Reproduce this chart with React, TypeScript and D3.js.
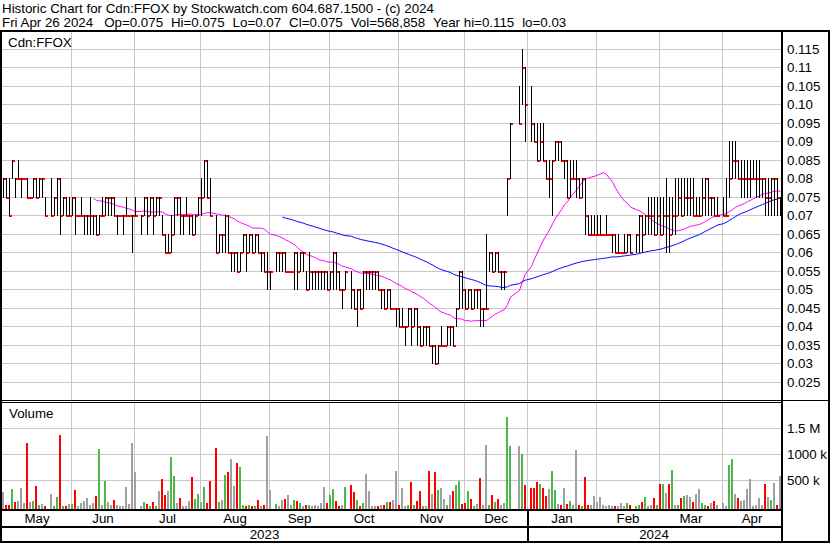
import React from 'react';
import * as d3 from 'd3';

const W = 830;
const H = 543;
const FONT = '"Liberation Sans", Arial, sans-serif';

// ---- data (one entry per weekday from 2023-05-01; null = market holiday) ----
const startDate = new Date(2023, 4, 1);

const highs: (number | null)[] = [
  // May
  .08,.08,.08,.085,.08,.085,.08,.08,.08,.075,.08,.08,.08,.08,.075,null,.08,.075,.08,.08,.075,.075,.075,
  // Jun
  .075,.075,.07,.075,.07,.07,.075,.07,.07,.07,.075,.075,.075,.075,.075,.07,.07,.07,.075,.07,.07,.075,
  // Jul
  null,.07,.075,.075,.075,.075,.075,.075,.07,.065,.065,.07,.075,.075,.075,.07,.075,.07,.07,.07,.075,
  // Aug
  .08,.085,.085,.08,null,.07,.065,.065,.07,.07,.06,.06,.06,.06,.065,.065,.065,.065,.065,.065,.06,.06,.06,
  // Sep
  .055,null,.06,.06,.06,.06,.055,.055,.06,.06,.06,.06,.055,.06,.055,.055,.055,.055,.055,.055,.055,
  // Oct
  .06,.06,.055,.05,.055,null,.055,.05,.05,.05,.055,.055,.055,.055,.055,.055,.05,.05,.05,.05,.045,.045,
  // Nov
  .045,.045,.04,.045,.045,.045,.045,.04,.04,.04,.04,.035,.035,.035,.04,.035,.04,.04,.04,.045,.055,.055,
  // Dec
  .05,.05,.05,.05,.05,.05,.045,.065,.06,.06,.06,.06,.055,.055,.08,.095,null,null,.105,.115,.11,
  // Jan
  null,.105,.095,.095,.095,.095,.085,.085,.085,.09,.09,.09,.085,.085,.085,.085,.085,.08,.08,.08,.07,.07,.07,
  // Feb
  .07,.07,.065,.07,.065,.065,.065,.065,.06,.065,.065,.065,null,.065,.07,.07,.07,.075,.075,.075,.075,
  // Mar
  .075,.075,.08,.075,.075,.08,.08,.08,.08,.08,.08,.08,.075,.075,.08,.08,.08,.075,.075,.075,null,
  // Apr
  .075,.08,.09,.09,.09,.085,.085,.085,.085,.085,.085,.085,.085,.08,.08,.08,.08,.08,.08,.075,
];

const lows: (number | null)[] = [
  .075,.075,.07,.08,.075,.08,.075,.08,.075,.075,.075,.075,.075,.075,.07,null,.07,.07,.07,.065,.07,.07,.07,
  .07,.065,.07,.07,.065,.065,.065,.065,.065,.065,.07,.07,.07,.07,.07,.065,.07,.065,.07,.07,.06,.07,
  null,.065,.07,.065,.07,.065,.07,.07,.065,.06,.06,.06,.065,.07,.065,.065,.07,.065,.065,.065,.07,
  .07,.075,.075,.07,null,.06,.06,.06,.06,.06,.055,.055,.055,.055,.06,.055,.06,.06,.06,.06,.055,.055,.05,
  .05,null,.055,.055,.055,.055,.055,.055,.05,.05,.055,.055,.05,.05,.05,.05,.05,.05,.05,.05,.05,
  .05,.05,.05,.045,.05,null,.045,.045,.04,.045,.045,.05,.05,.05,.05,.05,.045,.045,.045,.045,.045,.04,
  .04,.04,.035,.04,.035,.04,.035,.035,.035,.035,.035,.03,.03,.03,.035,.035,.035,.035,.035,.04,.045,.045,
  .045,.045,.045,.045,.045,.04,.04,.045,.055,.055,.055,.055,.05,.05,.07,.08,null,null,.095,.10,.09,
  null,.09,.09,.085,.085,.085,.08,.075,.07,.085,.085,.085,.08,.075,.075,.08,.075,.075,.075,.065,.065,.065,.065,
  .065,.065,.065,.065,.065,.06,.06,.06,.06,.06,.06,.06,null,.06,.06,.06,.065,.065,.065,.065,.065,
  .065,.065,.06,.06,.065,.065,.07,.07,.07,.07,.07,.07,.07,.07,.07,.07,.07,.07,.07,.07,null,
  .07,.07,.075,.08,.08,.08,.075,.075,.075,.075,.08,.075,.075,.075,.07,.07,.07,.07,.07,.07,
];

const closes: (number | null)[] = [
  .08,.075,.07,.085,.08,.08,.08,.08,.075,.075,.08,.075,.08,.08,.07,null,.07,.075,.08,.07,.075,.07,.07,
  .075,.07,.07,.07,.07,.07,.07,.07,.065,.07,.07,.075,.075,.075,.07,.07,.07,.07,.07,.07,.07,.07,
  null,.07,.075,.07,.075,.07,.075,.075,.065,.06,.06,.065,.075,.075,.07,.07,.07,.07,.065,.07,.075,
  .075,.085,.075,.07,null,.06,.065,.065,.07,.06,.06,.06,.055,.06,.065,.06,.065,.06,.065,.06,.06,.055,.055,
  .055,null,.06,.06,.06,.055,.055,.055,.06,.055,.06,.06,.05,.055,.055,.055,.055,.055,.055,.05,.055,
  .06,.055,.05,.05,.055,null,.05,.045,.05,.045,.055,.055,.055,.055,.055,.05,.05,.045,.05,.045,.045,.045,
  .04,.04,.04,.045,.04,.045,.04,.035,.04,.04,.035,.035,.03,.035,.035,.035,.04,.04,.035,.045,.055,.05,
  .045,.05,.045,.05,.05,.045,.045,.045,.06,.055,.06,.055,.055,.055,.08,.095,null,null,.095,.11,.10,
  null,.095,.09,.085,.09,.085,.08,.08,.085,.09,.09,.085,.085,.075,.08,.08,.08,.075,.08,.07,.065,.065,.065,
  .065,.065,.065,.065,.065,.065,.06,.06,.06,.06,.065,.06,null,.065,.07,.065,.07,.07,.07,.065,.07,
  .065,.07,.07,.065,.07,.07,.075,.07,.075,.075,.075,.07,.07,.07,.075,.08,.075,.075,.07,.07,null,
  .07,.07,.08,.085,.085,.08,.08,.08,.08,.08,.08,.08,.08,.08,.075,.075,.08,.08,.075,.075,
];

// volume in thousands of shares
const volumes: (number | null)[] = [
  262,10,20,325,75,95,340,50,1210,68,87,384,16,35,5,null,229,5,164,1370,5,3,35,
  35,306,5,55,95,150,10,55,190,1100,20,480,75,20,112,20,5,5,364,35,1210,655,
  null,5,75,35,5,75,5,287,520,209,287,946,578,55,150,3,5,95,558,132,229,
  75,364,55,480,null,1120,75,112,597,655,907,384,830,752,10,5,10,3,3,112,3,10,1350,
  306,null,35,5,112,132,209,10,112,95,55,3,10,10,3,10,3,55,364,55,209,
  325,95,5,10,364,null,403,267,112,5,55,616,287,3,5,3,20,20,75,75,112,674,
  20,345,5,10,467,10,95,287,5,5,674,229,655,306,345,132,10,209,287,403,480,35,
  55,287,132,5,35,539,10,1180,10,209,75,132,20,55,1710,1150,null,null,1150,1000,403,
  null,345,345,461,422,345,190,325,674,306,35,20,345,35,95,10,1080,20,5,558,20,20,190,
  75,170,10,3,10,5,3,3,55,5,55,10,null,3,20,75,170,5,10,150,10,
  422,422,248,422,694,10,20,150,190,209,170,75,229,325,55,10,5,55,95,20,null,
  55,5,790,907,229,150,95,112,325,520,5,20,150,20,422,170,112,442,20,569,
];

const priceTicks = [0.025,0.03,0.035,0.04,0.045,0.05,0.055,0.06,0.065,0.07,0.075,0.08,0.085,0.09,0.095,0.10,0.105,0.11,0.115];
const volumeTicks = [500, 1000, 1500];
const volumeTickLabels = ['500 k', '1000 k', '1.5 M'];
const monthNames = ['Jan','Feb','Mar','Apr','May','Jun','Jul','Aug','Sep','Oct','Nov','Dec'];
const maPeriods = [30, 90];
const maColors = ['#ff00ff', '#0000ff'];
const headerLine1 = 'Historic Chart for Cdn:FFOX by Stockwatch.com 604.687.1500 - (c) 2024';
const headerFields = ['Fri Apr 26 2024', 'Op=0.075', 'Hi=0.075', 'Lo=0.07', 'Cl=0.075', 'Vol=568,858', 'Year hi=0.115', 'lo=0.03'];

function makeWeekdays(start: Date, n: number): Date[] {
  const out: Date[] = [];
  const d = new Date(start);
  while (out.length < n) {
    const wd = d.getDay();
    if (wd !== 0 && wd !== 6) out.push(new Date(d));
    d.setDate(d.getDate() + 1);
  }
  return out;
}

function sma(vals: (number | null)[], period: number): (number | null)[] {
  const out: (number | null)[] = vals.map(() => null);
  const win: number[] = [];
  let sum = 0;
  vals.forEach((v, i) => {
    if (v == null) return;
    win.push(v); sum += v;
    if (win.length > period) sum -= win.shift() as number;
    if (win.length === period) out[i] = sum / period;
  });
  return out;
}

function fmtPrice(p: number): string {
  let s = p.toFixed(3);
  if (s.endsWith('0')) s = s.slice(0, -1);
  return s;
}

export default function App() {
  const n = closes.length;
  const dates = makeWeekdays(startDate, n);
  const x = d3.scaleLinear().domain([0, n - 1]).range([3, 3 + 3 * (n - 1)]);
  const y = d3.scaleLinear().domain([0.025, 0.115]).range([381.8, 48.8]);
  const vy = d3.scaleLinear().domain([0, 1500]).range([505.8, 428.3]);
  const plotL = 2, plotR = 781;

  // month boundaries: last weekday on or before the 1st of each month
  const bounds: { idx: number; month: number }[] = [];
  for (let i = 1; i < n; i++) {
    if (dates[i].getMonth() !== dates[i - 1].getMonth()) {
      const idx = dates[i].getDate() === 1 ? i : i - 1;
      bounds.push({ idx, month: dates[i].getMonth() });
    }
  }
  const gridXs = bounds.map(b => Math.round(x(b.idx)) - 1);
  const edges = [plotL, ...gridXs, plotR];
  const months = [dates[0].getMonth(), ...bounds.map(b => b.month)];
  const yearBound = bounds.find(b => b.month === 0)!;
  const yearX = Math.round(x(yearBound.idx)) - 1;

  const mas = maPeriods.map(p => sma(closes, p));
  const line = d3.line<[number, number]>().x(d => d[0]).y(d => d[1]);

  const ticks: JSX.Element[] = [];
  const bars: JSX.Element[] = [];
  const vbars: JSX.Element[] = [];
  let prev: number | null = null;
  for (let i = 0; i < n; i++) {
    const h = highs[i], l = lows[i], c = closes[i], v = volumes[i];
    if (h == null || l == null || c == null) continue;
    const bx = Math.round(x(i));
    const yt = Math.round(y(h));
    const yb = Math.round(y(l)) + 1;
    ticks.push(<rect key={'c' + i} x={bx} y={Math.round(y(c))} width={3} height={2} fill="#ff0000" />);
    if (yb - yt > 2) bars.push(<rect key={'b' + i} x={bx} y={yt} width={1} height={yb - yt} fill="#000" />);
    if (v != null) {
      const col = prev == null || c === prev ? '#a0a0a0' : c > prev ? '#4cb84c' : '#ff0000';
      const top = Math.min(Math.round(vy(v)), 508);
      vbars.push(<rect key={'v' + i} x={bx - 1} y={top} width={2} height={509 - top} fill={col} />);
    }
    prev = c;
  }

  const txt = { fontFamily: FONT, fontSize: 13.33, fill: '#000' } as const;

  return (
    <div style={{ position: 'absolute', left: 0, top: 0 }}>
      <svg width={W} height={H} style={{ display: 'block' }}>
        <rect x={0} y={0} width={W} height={H} fill="#fff" />
        <text x={2} y={12.5} {...txt}>{headerLine1}</text>
        <text x={2} y={27} {...txt}>
          {headerFields.map((f, k) => (
            <tspan key={'hf' + k} dx={k === 0 ? 0 : k === 1 ? 11 : 7.9}>{f}</tspan>
          ))}
        </text>

        {/* price grid */}
        {priceTicks.map(p => (
          <rect key={'hg' + p} x={plotL} y={Math.round(y(p))} width={plotR - plotL} height={1} fill="#c8c8c8" />
        ))}
        {gridXs.map((gx, k) => (
          <g key={'vg' + k}>
            <rect x={gx} y={32} width={1} height={368} fill="#c8c8c8" />
            <rect x={gx} y={403} width={1} height={106} fill="#c8c8c8" />
          </g>
        ))}
        {volumeTicks.map(v => (
          <rect key={'vgh' + v} x={plotL} y={Math.round(vy(v))} width={plotR - plotL} height={1} fill="#c8c8c8" />
        ))}

        {/* moving averages */}
        {mas.map((m, k) => {
          const pts: [number, number][] = [];
          m.forEach((v, i) => { if (v != null) pts.push([x(i) + 0.5, y(v) + 0.5]); });
          return <path key={'ma' + k} d={line(pts) || ''} fill="none" stroke={maColors[k]} strokeWidth={1} />;
        })}

        {ticks}
        {bars}
        {vbars}

        {/* labels inside panels */}
        <text x={8} y={46.5} {...txt}>Cdn:FFOX</text>
        <text x={9} y={418} {...txt}>Volume</text>

        {/* axis labels */}
        {priceTicks.map(p => (
          <text key={'pl' + p} x={787} y={Math.round(y(p)) + 4.5} {...txt}>{fmtPrice(p)}</text>
        ))}
        {volumeTicks.map((v, k) => (
          <text key={'vl' + v} x={787} y={Math.round(vy(v)) + 4.5} {...txt}>{volumeTickLabels[k]}</text>
        ))}
        {months.map((m, k) => (
          <text key={'ml' + k} x={(edges[k] + edges[k + 1]) / 2 + 0.5} y={522.5} textAnchor="middle" {...txt}>{monthNames[m]}</text>
        ))}
        <text x={(plotL + yearX) / 2} y={539} textAnchor="middle" {...txt}>{String(dates[0].getFullYear())}</text>
        <text x={(yearX + plotR) / 2} y={539} textAnchor="middle" {...txt}>{String(dates[n - 1].getFullYear())}</text>

        {/* frame */}
        <rect x={0} y={30} width={W} height={2} fill="#000" />
        <rect x={0} y={30} width={2} height={513} fill="#000" />
        <rect x={828} y={30} width={2} height={513} fill="#000" />
        <rect x={0} y={541} width={W} height={2} fill="#000" />
        <rect x={781} y={30} width={2} height={513} fill="#000" />
        <rect x={0} y={400} width={W} height={1} fill="#000" />
        <rect x={0} y={402} width={781} height={1} fill="#000" />
        <rect x={0} y={509} width={781} height={2} fill="#000" />
        <rect x={0} y={526} width={781} height={2} fill="#000" />
        <rect x={yearX} y={509} width={2} height={32} fill="#000" />
      </svg>
    </div>
  );
}
